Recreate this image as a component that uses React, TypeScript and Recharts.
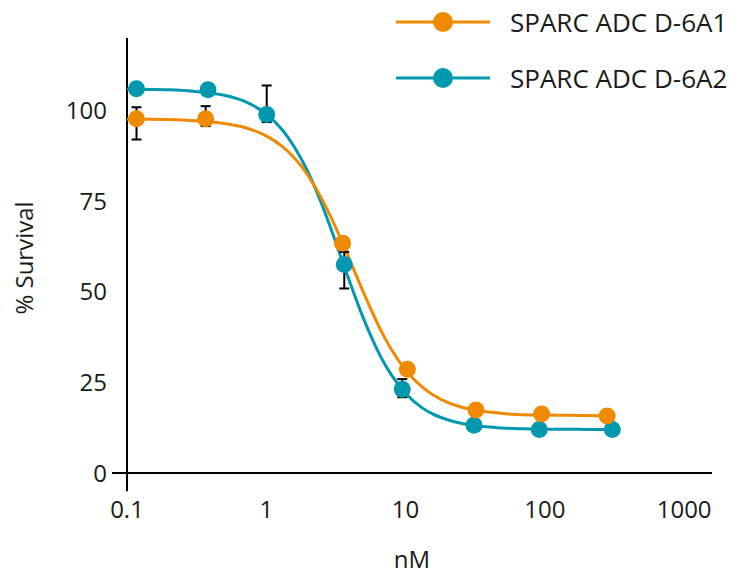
import React from "react";
import {
  ComposedChart,
  Line,
  Scatter,
  XAxis,
  YAxis,
  ErrorBar,
  ReferenceLine,
} from "recharts";

// concentrations (nM) and % survival
const a1DoseNm = [0.117, 0.367, 3.53, 10.3, 32.0, 94.8, 280];
const a1Survival = [97.7, 97.7, 63.4, 28.6, 17.4, 16.3, 15.7];
const a1Err: [number, number][] = [[5.7, 3.2], [2, 3.5], [0, 0], [0, 0], [0, 0], [0, 0], [0, 0]];

const a2DoseNm = [0.117, 0.3815, 1.007, 3.63, 9.47, 31.0, 91.2, 305];
const a2Survival = [106, 105.7, 98.9, 57.5, 23.1, 13.2, 12.0, 12.0];
const a2Err: [number, number][] = [[0, 0], [0, 0], [2.1, 8.0], [6.6, 3.5], [2.2, 2.8], [0, 0], [0, 0], [0, 0]];

// fitted curves
const a1FitX = [0.1, 0.15, 0.2, 0.3, 0.5, 0.7, 1, 1.3, 1.6, 2, 2.5, 3, 3.5, 4, 5, 6, 7, 8, 10, 13, 16, 20, 25, 30, 40, 50, 70, 100, 150, 200, 280];
const a1FitY = [97.6, 97.6, 97.5, 97.2, 96.4, 95.3, 93.0, 90.1, 86.8, 82.0, 75.7, 69.5, 63.8, 58.5, 49.7, 42.9, 37.7, 33.8, 28.4, 23.9, 21.4, 19.5, 18.2, 17.5, 16.8, 16.4, 16.1, 16.0, 15.9, 15.85, 15.8];

const a2FitX = [0.1, 0.15, 0.2, 0.3, 0.5, 0.7, 1, 1.3, 1.6, 2, 2.5, 3, 3.5, 4, 5, 6, 7, 8, 10, 13, 16, 20, 25, 30, 40, 50, 70, 100, 150, 200, 305];
const a2FitY = [105.9, 105.8, 105.7, 105.3, 104.2, 102.5, 99.0, 94.7, 89.8, 82.9, 74.2, 66.0, 58.7, 52.4, 42.5, 35.5, 30.4, 26.8, 22.0, 18.1, 16.1, 14.7, 13.7, 13.2, 12.7, 12.4, 12.2, 12.1, 12.05, 12.03, 12.0];

const xTicks = [0.1, 1, 10, 100, 1000];
const yTicks = [0, 25, 50, 75, 100];

const seriesNames = ["SPARC ADC D-6A1", "SPARC ADC D-6A2"];
const ORANGE = "#EF8A00";
const TEAL = "#0097AF";
const INK = "#1a1a1a";
const FONT = "'Open Sans', 'Noto Sans', sans-serif";

const a1Points = a1DoseNm.map((x, i) => ({ x, y: a1Survival[i], err: a1Err[i] }));
const a2Points = a2DoseNm.map((x, i) => ({ x, y: a2Survival[i], err: a2Err[i] }));
const a1Fit = a1FitX.map((x, i) => ({ x, y: a1FitY[i] }));
const a2Fit = a2FitX.map((x, i) => ({ x, y: a2FitY[i] }));

function LegendRow({ color, label, top }: { color: string; label: string; top: number }) {
  return (
    <div style={{ position: "absolute", left: 396, top: top - 18, height: 36, display: "flex", alignItems: "center" }}>
      <svg width={96} height={36}>
        <line x1={0} y1={18} x2={94} y2={18} stroke={color} strokeWidth={3} />
        <circle cx={47} cy={18} r={10} fill={color} />
      </svg>
      <span style={{ marginLeft: 18, fontSize: 26, color: INK, fontFamily: FONT, whiteSpace: "nowrap" }}>{label}</span>
    </div>
  );
}

export default function App() {
  return (
    <div style={{ position: "absolute", left: 0, top: 0, width: 730, height: 577, background: "#fff" }}>
      <ComposedChart
        width={730}
        height={577}
        margin={{ top: 38, right: 18, left: 0, bottom: 44 }}
        style={{ fontFamily: FONT }}
      >
        <XAxis
          dataKey="x"
          type="number"
          scale="log"
          domain={[0.1, 1585]}
          ticks={xTicks}
          allowDataOverflow
          axisLine={false}
          tickLine={false}
          tickMargin={22}
          height={60}
          tick={{ fill: INK, fontSize: 24 }}
          label={{
            content: () => (
              <text x={412} y={568} textAnchor="middle" fill={INK} fontSize={24} fontFamily={FONT}>
                nM
              </text>
            ),
          }}
        />
        <YAxis
          dataKey="y"
          type="number"
          domain={[0, 120]}
          ticks={yTicks}
          allowDataOverflow
          axisLine={false}
          tickLine={false}
          tickMargin={14}
          width={127}
          tick={{ fill: INK, fontSize: 24 }}
          label={{
            content: () => (
              <text
                x={23}
                y={258}
                transform="rotate(-90 23 258)"
                textAnchor="middle"
                dominantBaseline="central"
                fill={INK}
                fontSize={24}
                fontFamily={FONT}
              >
                % Survival
              </text>
            ),
          }}
        />
        <ReferenceLine
          segment={[{ x: 0.1, y: -5 }, { x: 0.1, y: 120 }]}
          stroke="#000"
          strokeWidth={2}
          ifOverflow="visible"
        />
        <ReferenceLine
          segment={[{ x: 0.078, y: 0 }, { x: 1585, y: 0 }]}
          stroke="#000"
          strokeWidth={2}
          ifOverflow="visible"
        />
        <Line data={a2Fit} dataKey="y" type="monotone" stroke={TEAL} strokeWidth={3} dot={false} isAnimationActive={false} />
        <Line data={a1Fit} dataKey="y" type="monotone" stroke={ORANGE} strokeWidth={3} dot={false} isAnimationActive={false} />
        <Scatter data={a2Points} dataKey="y" fill={TEAL} shape={(p: any) => <circle cx={p.cx} cy={p.cy} r={8.5} fill={TEAL} />} isAnimationActive={false}>
          <ErrorBar dataKey="err" direction="y" width={5} stroke="#000" strokeWidth={2} />
        </Scatter>
        <Scatter data={a1Points} dataKey="y" fill={ORANGE} shape={(p: any) => <circle cx={p.cx} cy={p.cy} r={8.5} fill={ORANGE} />} isAnimationActive={false}>
          <ErrorBar dataKey="err" direction="y" width={5} stroke="#000" strokeWidth={2} />
        </Scatter>
      </ComposedChart>
      <LegendRow color={ORANGE} label={seriesNames[0]} top={22} />
      <LegendRow color={TEAL} label={seriesNames[1]} top={78} />
    </div>
  );
}
